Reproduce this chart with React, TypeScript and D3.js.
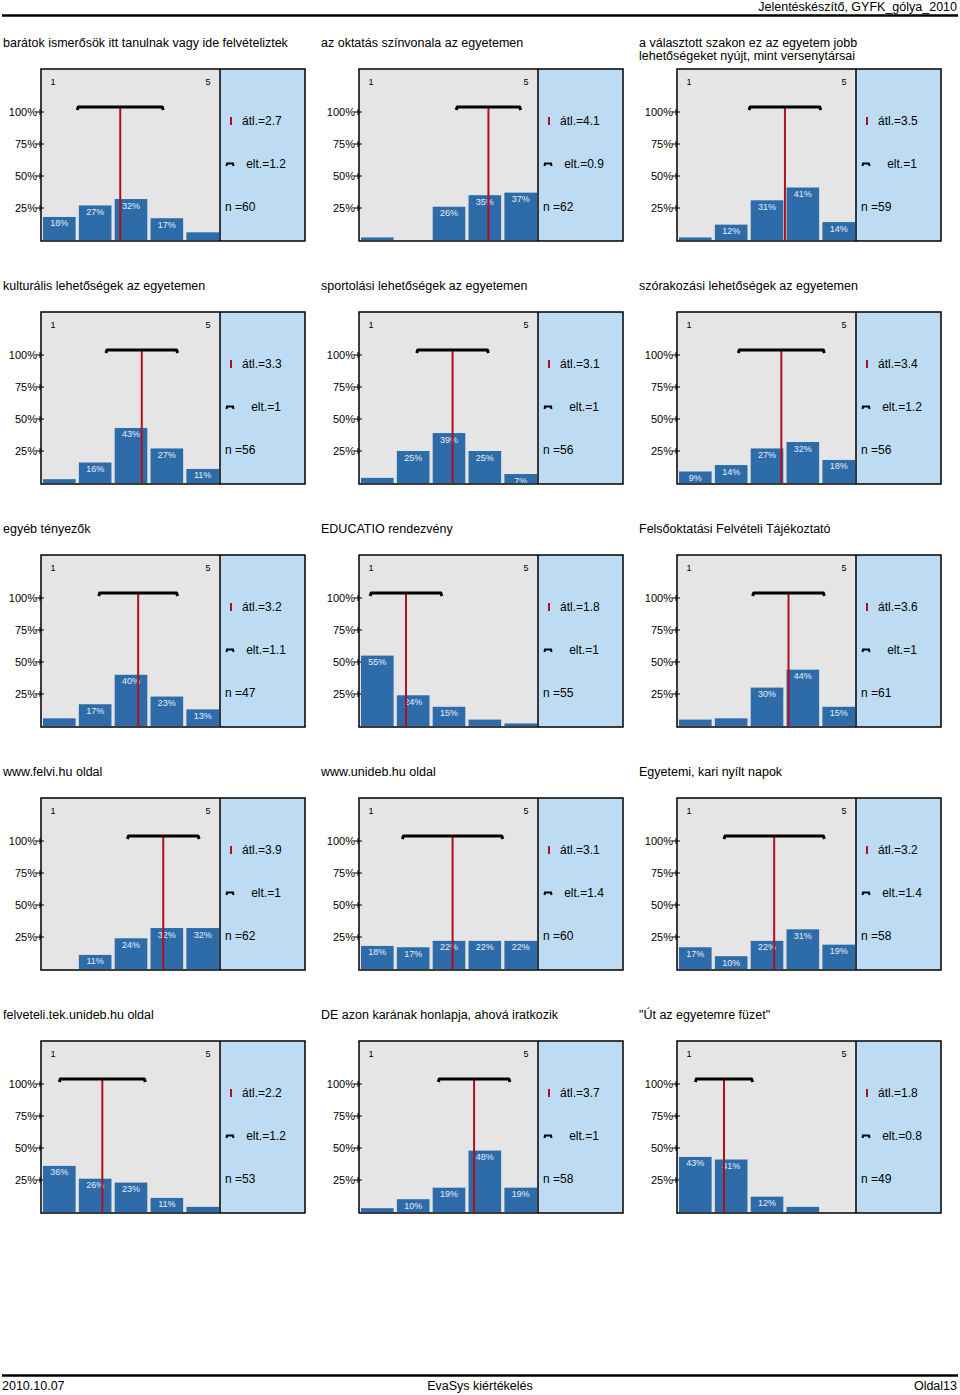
import React from "react";
import * as d3 from "d3";

const titles: string[][] = [
  ["barátok ismerősök itt tanulnak vagy ide felvételiztek"],
  ["az oktatás színvonala az egyetemen"],
  ["a választott szakon ez az egyetem jobb", "lehetőségeket nyújt, mint versenytársai"],
  ["kulturális lehetőségek az egyetemen"],
  ["sportolási lehetőségek az egyetemen"],
  ["szórakozási lehetőségek az egyetemen"],
  ["egyéb tényezők"],
  ["EDUCATIO rendezvény"],
  ["Felsőoktatási Felvételi Tájékoztató"],
  ["www.felvi.hu oldal"],
  ["www.unideb.hu oldal"],
  ["Egyetemi, kari nyílt napok"],
  ["felveteli.tek.unideb.hu oldal"],
  ["DE azon karának honlapja, ahová iratkozik"],
  ["\"Út az egyetemre füzet\""],
];

const percents: number[][] = [
  [18, 27, 32, 17, 6],
  [2, 0, 26, 35, 37],
  [2, 12, 31, 41, 14],
  [3, 16, 43, 27, 11],
  [4, 25, 39, 25, 7],
  [9, 14, 27, 32, 18],
  [6, 17, 40, 23, 13],
  [55, 24, 15, 5, 2],
  [5, 6, 30, 44, 15],
  [0, 11, 24, 32, 32],
  [18, 17, 22, 22, 22],
  [17, 10, 22, 31, 19],
  [36, 26, 23, 11, 4],
  [3, 10, 19, 48, 19],
  [43, 41, 12, 4, 0],
];

const means: number[] = [2.7, 4.1, 3.5, 3.3, 3.1, 3.4, 3.2, 1.8, 3.6, 3.9, 3.1, 3.2, 2.2, 3.7, 1.8];
const meanLabels: string[] = ["2.7", "4.1", "3.5", "3.3", "3.1", "3.4", "3.2", "1.8", "3.6", "3.9", "3.1", "3.2", "2.2", "3.7", "1.8"];
const sds: number[] = [1.2, 0.9, 1, 1, 1, 1.2, 1.1, 1, 1, 1, 1.4, 1.4, 1.2, 1, 0.8];
const sdLabels: string[] = ["1.2", "0.9", "1", "1", "1", "1.2", "1.1", "1", "1", "1", "1.4", "1.4", "1.2", "1", "0.8"];
const counts: number[] = [60, 62, 59, 56, 56, 56, 47, 55, 61, 62, 60, 58, 53, 58, 49];

const categories = [1, 2, 3, 4, 5];
const yTicks = [25, 50, 75, 100];

const FONT = "'Liberation Sans', Arial, sans-serif";
const NARROW = "'Liberation Sans Narrow', 'Arial Narrow', sans-serif";
const BLUE = "#2e6ca9";
const GRAY = "#e5e5e5";
const INFO = "#bddcf4";
const RED = "#b0101c";

function Panel({ idx, ox, oy }: { idx: number; ox: number; oy: number }) {
  const x0 = ox + 41;
  const xg = ox + 220;
  const x1 = ox + 305;
  const top = oy;
  const bottom = oy + 172;
  const base = oy + 171;
  const y = d3.scaleLinear().domain([0, 100]).range([base, base - 128]);
  const x = d3
    .scaleBand<number>()
    .domain(categories)
    .range([x0 + 2, x0 + 178])
    .paddingInner(0.09)
    .paddingOuter(0);
  const bw = x.bandwidth();
  const xm = d3
    .scaleLinear()
    .domain([1, 5])
    .range([(x(1) as number) + bw / 2, (x(5) as number) + bw / 2]);
  const m = means[idx];
  const s = sds[idx];
  const bracketY = y(100) - 5;
  const bl = xm(m - s);
  const br = xm(m + s);
  const t = titles[idx];
  return (
    <g>
      {t.map((line, i) => (
        <text key={i} x={ox + 3} y={top - 22.5 + i * 13} fontSize={12.5} fontFamily={FONT} fill="#000">
          {line}
        </text>
      ))}
      <rect x={x0} y={top} width={xg - x0} height={bottom - top} fill={GRAY} />
      <rect x={xg} y={top} width={x1 - xg} height={bottom - top} fill={INFO} />
      <text x={x0 + 12} y={top + 16} fontSize={9} fontFamily={FONT} textAnchor="middle">1</text>
      <text x={xg - 12} y={top + 16} fontSize={9} fontFamily={FONT} textAnchor="middle">5</text>
      {yTicks.map((v) => (
        <g key={v}>
          <line x1={x0 - 5} x2={x0 + 3} y1={y(v)} y2={y(v)} stroke="#000" strokeWidth={1} />
          <line x1={x0 - 1} x2={x0 - 1} y1={y(v) - 3} y2={y(v) + 3} stroke="#000" strokeWidth={1} />
          <text x={x0 - 4} y={y(v) + 4} fontSize={11} fontFamily={FONT} textAnchor="end">{v}%</text>
        </g>
      ))}
      {categories.map((c, i) => {
        const v = percents[idx][i];
        if (v <= 0) return null;
        const bx = x(c) as number;
        return (
          <g key={c}>
            <rect x={bx} y={y(v)} width={bw} height={base - y(v)} fill={BLUE} />
            {v >= 7 && (
              <text x={bx + bw / 2} y={y(v) + 9.5} fontSize={9} fontFamily={FONT} fill="#e4eefa" textAnchor="middle">
                {v}%
              </text>
            )}
          </g>
        );
      })}
      <line x1={xm(m)} x2={xm(m)} y1={bracketY} y2={base} stroke={RED} strokeWidth={2} />
      <path
        d={`M${bl},${bracketY + 3}L${bl + 1},${bracketY}L${br - 1},${bracketY}L${br},${bracketY + 3}`}
        fill="none"
        stroke="#000"
        strokeWidth={3}
        strokeLinejoin="round"
      />
      <rect x={x0} y={top} width={x1 - x0} height={bottom - top} fill="none" stroke="#000" strokeWidth={1.5} />
      <line x1={xg} x2={xg} y1={top} y2={bottom} stroke="#000" strokeWidth={1.5} />
      <line x1={ox + 231} x2={ox + 231} y1={top + 48} y2={top + 56} stroke={RED} strokeWidth={2} />
      <text x={ox + 242} y={top + 56} fontSize={12} fontFamily={FONT}>átl.={meanLabels[idx]}</text>
      <path
        d={`M${ox + 226.5},${top + 97}L${ox + 227},${top + 94.5}L${ox + 233},${top + 94.5}L${ox + 233.5},${top + 97}`}
        fill="none"
        stroke="#000"
        strokeWidth={2}
      />
      <text x={ox + 266} y={top + 99} fontSize={12} fontFamily={FONT} textAnchor="middle">elt.={sdLabels[idx]}</text>
      <text x={ox + 225} y={top + 142} fontSize={12} fontFamily={FONT}>n ={counts[idx]}</text>
    </g>
  );
}

export default function App() {
  const colOffsets = [0, 318, 636];
  const rowTops = [69, 312, 555, 798, 1041];
  return (
    <svg
      width={960}
      height={1395}
      style={{ position: "absolute", left: 0, top: 0 }}
      xmlns="http://www.w3.org/2000/svg"
    >
      <rect width={960} height={1395} fill="#fff" />
      <text x={957} y={11} fontSize={12.5} fontFamily={FONT} textAnchor="end">Jelentéskészítő, GYFK_gólya_2010</text>
      <line x1={2} x2={958} y1={15.5} y2={15.5} stroke="#000" strokeWidth={2.5} />
      {titles.map((_, i) => (
        <Panel key={i} idx={i} ox={colOffsets[i % 3]} oy={rowTops[Math.floor(i / 3)]} />
      ))}
      <line x1={2} x2={958} y1={1375.5} y2={1375.5} stroke="#000" strokeWidth={2.5} />
      <text x={2} y={1390} fontSize={12.5} fontFamily={NARROW}>2010.10.07</text>
      <text x={480} y={1390} fontSize={12.5} fontFamily={NARROW} textAnchor="middle">EvaSys kiértékelés</text>
      <text x={957} y={1390} fontSize={12.5} fontFamily={NARROW} textAnchor="end">Oldal13</text>
    </svg>
  );
}
